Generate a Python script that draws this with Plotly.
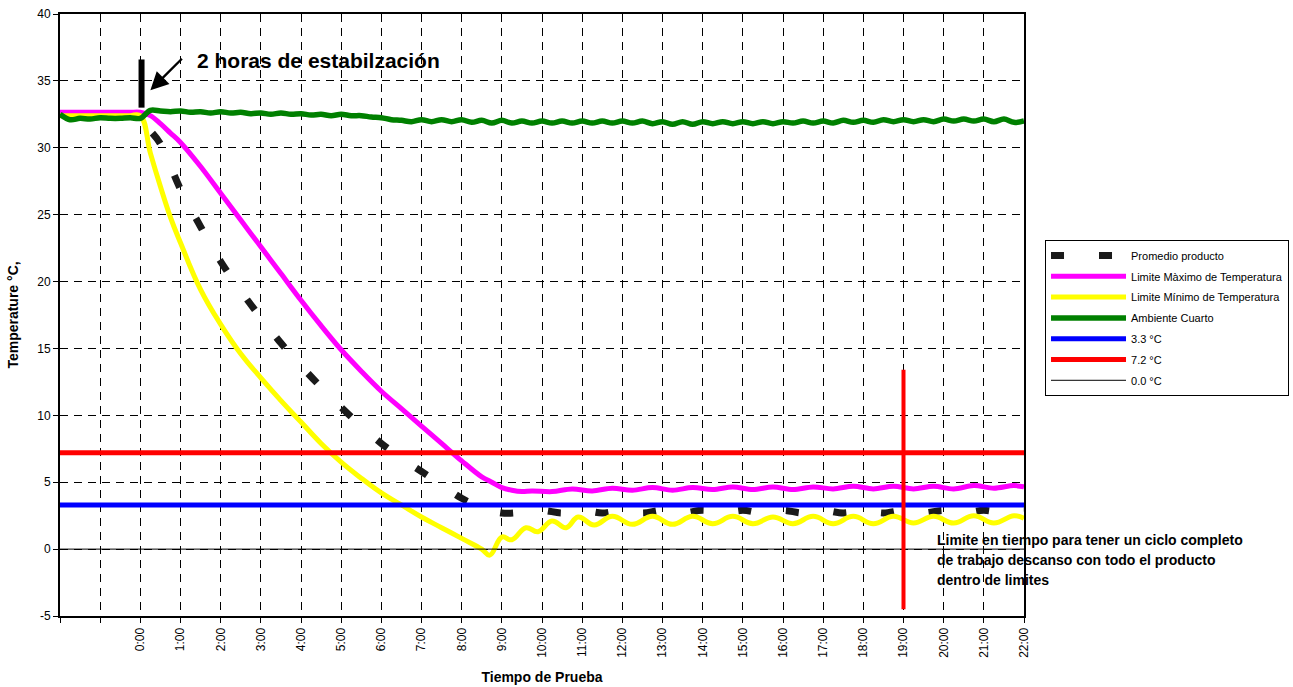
import numpy as np
import plotly.graph_objects as go

# ---------------- data ----------------
hour_ticks = list(range(-2, 23))
hour_labels = ["", ""] + [f"{h}:00" for h in range(0, 23)]
temp_ticks = [-5, 0, 5, 10, 15, 20, 25, 30, 35, 40]
temp_labels = ["-5", "0", "5", "10", "15", "20", "25", "30", "35", "40"]

# Ambiente Cuarto, sampled every 15 min from -2:00 to 22:00
amb_t = np.arange(-2, 22.001, 0.25)
amb_v = [
    32.5, 32.1, 32.2, 32.15, 32.25, 32.2, 32.2, 32.25,
    32.2, 32.8, 32.75, 32.7, 32.75, 32.65, 32.7, 32.6,
    32.7, 32.6, 32.65, 32.55, 32.6, 32.5, 32.6, 32.5,
    32.55, 32.45, 32.5, 32.4, 32.5, 32.4, 32.4, 32.3,
    32.25, 32.1, 32.05, 31.95, 32.1, 31.95, 32.1, 31.95,
    32.1, 31.9, 32.05, 31.85, 32.05, 31.85, 32.0, 31.85,
    32.0, 31.85, 32.0, 31.85, 32.0, 31.85, 32.0, 31.85,
    32.0, 31.85, 32.0, 31.8, 31.95, 31.75, 31.95, 31.75,
    31.95, 31.8, 31.95, 31.8, 31.95, 31.8, 31.95, 31.8,
    31.95, 31.85, 32.0, 31.85, 32.0, 31.85, 32.05, 31.9,
    32.05, 31.9, 32.1, 31.95, 32.1, 31.95, 32.1, 31.95,
    32.15, 32.0, 32.15, 32.0, 32.15, 31.95, 32.15, 31.9,
    32.0,
]

max_t = [-2, -1.5, -1, -0.5, -0.25, 0, 0.25, 0.5, 0.75, 1, 1.5, 2, 2.5, 3, 3.5, 4,
         4.5, 5, 5.5, 6, 6.5, 7, 7.5, 8, 8.5, 8.75, 9, 9.25, 9.5, 9.75,
         10.25, 10.75, 11.25, 11.75, 12.25, 12.75, 13.25, 13.75, 14.25, 14.75,
         15.25, 15.75, 16.25, 16.75, 17.25, 17.75, 18.25, 18.75, 19.25, 19.75,
         20.25, 20.75, 21.25, 21.75, 22]
max_v = [32.65, 32.65, 32.65, 32.65, 32.65, 32.65, 32.4, 31.8, 31.1, 30.4, 28.6, 26.6, 24.6, 22.6, 20.6, 18.6,
         16.7, 14.9, 13.3, 11.8, 10.5, 9.2, 7.9, 6.6, 5.4, 5.0, 4.6, 4.4, 4.3, 4.35,
         4.3, 4.5, 4.35, 4.55, 4.4, 4.6, 4.4, 4.6, 4.45, 4.65,
         4.45, 4.65, 4.45, 4.65, 4.5, 4.7, 4.5, 4.7, 4.5, 4.7,
         4.5, 4.75, 4.55, 4.75, 4.65]

min_t = [-2, -1.5, -1, -0.5, -0.25, 0, 0.25, 0.5, 0.75, 1, 1.5, 2, 2.5, 3, 3.5, 4,
         4.5, 5, 5.5, 6, 6.5, 7, 7.5, 8, 8.5, 8.7, 9.0, 9.25, 9.6, 9.9,
         10.25, 10.6, 10.9, 11.3, 11.75, 12.25, 12.75, 13.25, 13.75, 14.25, 14.75,
         15.25, 15.75, 16.25, 16.75, 17.25, 17.75, 18.25, 18.75, 19.25, 19.75,
         20.25, 20.75, 21.25, 21.75, 22]
min_v = [32.4, 32.4, 32.4, 32.4, 32.4, 32.4, 29.6, 27.1, 24.8, 22.9, 19.4, 16.8, 14.6, 12.8, 11.1, 9.5,
         7.9, 6.5, 5.3, 4.2, 3.3, 2.4, 1.6, 0.8, 0.0, -0.45, 0.9, 0.7, 1.6, 1.3,
         2.1, 1.6, 2.4, 1.8, 2.45, 1.85, 2.45, 1.85, 2.45, 1.9, 2.45,
         1.9, 2.4, 1.9, 2.45, 1.9, 2.45, 1.9, 2.45, 1.95, 2.45,
         1.95, 2.5, 1.95, 2.5, 2.3]

prod_t = [0.3, 0.5, 1, 1.5, 2, 2.5, 3, 3.5, 4, 4.5, 5, 5.5, 6, 6.5, 7, 7.5, 8, 8.5, 9, 9.5,
          10, 10.5, 11, 11.5, 12, 12.5, 13, 13.5, 14, 14.5, 15, 15.5, 16, 16.5,
          17, 17.5, 18, 18.5, 19, 19.5, 20, 20.5, 21, 21.5, 22]
prod_v = [31.1, 30.3, 26.9, 24.1, 21.5, 19.3, 17.3, 15.4, 13.7, 12.1, 10.6, 9.2, 7.9, 6.8, 5.8, 4.8, 3.8, 3.1, 2.7, 2.75,
          2.9, 2.7, 2.9, 2.7, 2.9, 2.7, 2.9, 2.7, 2.9, 2.7, 2.9, 2.7, 2.9, 2.7,
          2.9, 2.7, 2.9, 2.7, 2.9, 2.7, 2.9, 2.7, 2.9, 2.7, 2.85]

ref_t = [-2, 22]
lim_low = [3.3, 3.3]
lim_high = [7.2, 7.2]
lim_zero = [0.0, 0.0]

FONT = "Arial, Liberation Sans, sans-serif"

fig = go.Figure()
fig.add_trace(go.Scatter(x=prod_t, y=prod_v, mode="lines", name="Promedio producto", legendgroup="g1",
                         line=dict(color="#1a1a1a", width=7, dash="13px,35px", shape="spline", smoothing=1.0)))
fig.add_trace(go.Scatter(x=max_t, y=max_v, mode="lines", name="Limite Màximo de Temperatura", legendgroup="g2",
                         line=dict(color="#FF00FF", width=5, shape="spline", smoothing=1.0)))
fig.add_trace(go.Scatter(x=min_t, y=min_v, mode="lines", name="Limite Mínimo de Temperatura", legendgroup="g3",
                         line=dict(color="#FFFF00", width=5, shape="spline", smoothing=1.2)))
fig.add_trace(go.Scatter(x=amb_t, y=amb_v, mode="lines", name="Ambiente Cuarto", legendgroup="g4",
                         line=dict(color="#008000", width=5.5, shape="spline", smoothing=1.0)))
fig.add_trace(go.Scatter(x=ref_t, y=lim_low, mode="lines", name="3.3 °C", legendgroup="g5",
                         line=dict(color="#0000FF", width=5)))
fig.add_trace(go.Scatter(x=ref_t, y=lim_high, mode="lines", name="7.2 °C", legendgroup="g6",
                         line=dict(color="#FF0000", width=5)))
fig.add_trace(go.Scatter(x=ref_t, y=lim_zero, mode="lines", name="0.0 °C", legendgroup="g7",
                         line=dict(color="#000000", width=1)))

# markers / annotations
fig.add_shape(type="line", xref="x", yref="y", x0=0.03, x1=0.03, y0=33.0, y1=36.6,
              line=dict(color="black", width=6))
fig.add_shape(type="line", xref="x", yref="y", x0=19, x1=19, y0=-4.5, y1=13.4,
              line=dict(color="#FF0000", width=4))

fig.add_annotation(x=0.25, y=34.3, xref="x", yref="y", text="", showarrow=True,
                   ax=33, ay=-33, arrowhead=2, arrowsize=1.5, arrowwidth=2.4,
                   arrowcolor="black", standoff=0)
fig.add_annotation(x=1.37, y=36.55, xref="x", yref="y", text="<b>2 horas de estabilzación</b>",
                   showarrow=False, xanchor="left", yanchor="middle",
                   font=dict(family=FONT, size=21, color="black"))
for i, line in enumerate(["Limite en tiempo para tener un ciclo completo",
                          "de trabajo descanso con todo el producto",
                          "dentro de limites"]):
    fig.add_annotation(x=19.79, y=0.67 - i * 1.5, xref="x", yref="y", text=f"<b>{line}</b>",
                       showarrow=False, xanchor="left", yanchor="middle",
                       font=dict(family=FONT, size=14, color="black"))

fig.update_layout(
    width=1293, height=687,
    margin=dict(l=60, r=269, t=14, b=71, autoexpand=False),
    paper_bgcolor="white", plot_bgcolor="white",
    font=dict(family=FONT, color="black"),
    showlegend=True,
    legend=dict(x=1.0218, xanchor="left", y=0.6246, yanchor="top",
                bordercolor="black", borderwidth=1, bgcolor="white",
                font=dict(family=FONT, size=11, color="black"),
                itemwidth=75, traceorder="grouped", tracegroupgap=1.8),
)
fig.update_xaxes(
    range=[-2, 22], tickvals=hour_ticks, ticktext=hour_labels, tickangle=-90,
    ticks="outside", ticklen=5, tickcolor="black", tickfont=dict(family=FONT, size=12),
    showgrid=True, gridcolor="black", gridwidth=1, griddash="8px,6px",
    showline=True, linecolor="black", linewidth=2, mirror=True, zeroline=False,
    automargin=False,
    title=dict(text="<b>Tiempo de Prueba</b>", font=dict(family=FONT, size=14)),
)
fig.update_yaxes(
    range=[-5, 40], tickvals=temp_ticks, ticktext=temp_labels,
    ticks="outside", ticklen=5, tickcolor="black", tickfont=dict(family=FONT, size=12),
    showgrid=True, gridcolor="black", gridwidth=1, griddash="8px,6px",
    showline=True, linecolor="black", linewidth=2, mirror=True, zeroline=False,
    automargin=False,
    title=dict(text="<b>Temperature °C,</b>", font=dict(family=FONT, size=14)),
)

fig.write_html("out.html", config={"displayModeBar": False},
               post_script="document.body.style.margin='0';")
